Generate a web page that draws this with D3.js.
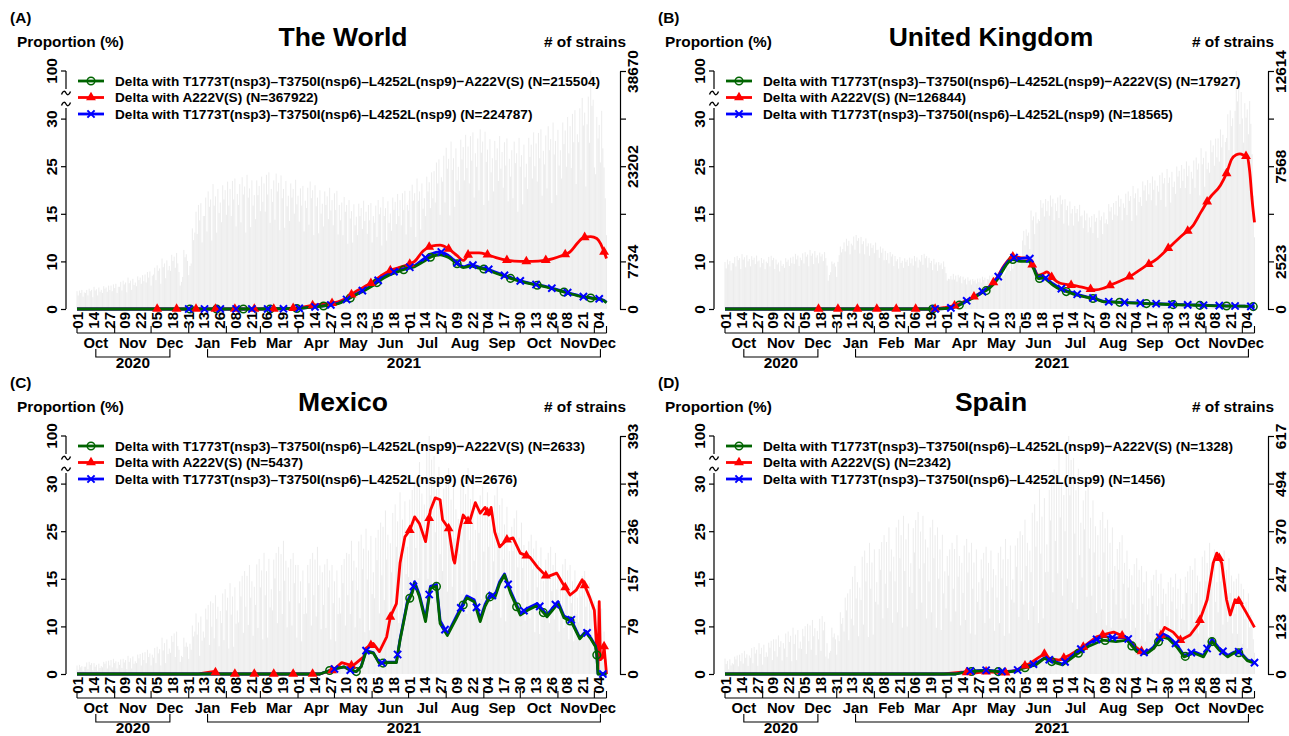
<!DOCTYPE html>
<html>
<head>
<meta charset="utf-8">
<script src="https://cdn.jsdelivr.net/npm/d3@7"></script>
<style>
html, body { margin: 0; padding: 0; background: #fff; }
svg text { font-family: "Liberation Sans", Arial, Helvetica, sans-serif; font-weight: bold; fill: #000; }
</style>
</head>
<body>
<svg id="chart" width="1289" height="736"></svg>
<script>
// ---------------- data ----------------
// day index 0 = 2020-10-01, last day index 436 = 2021-12-11
const firstDate = new Date(2020, 9, 1);
const lastDayIndex = 436;

const panelTitles = ["The World", "United Kingdom", "Mexico", "Spain"];
const panelLetters = ["(A)", "(B)", "(C)", "(D)"];
const strainAxisMax = [38670, 12614, 393, 617];
const proportionTicks = [0, 10, 15, 25, 30];
const proportionTop = 100;
const legendLabels = [
  "Delta with T1773T(nsp3)–T3750I(nsp6)–L4252L(nsp9)−A222V(S)",
  "Delta with A222V(S)",
  "Delta with T1773T(nsp3)–T3750I(nsp6)–L4252L(nsp9)"
];
const worldN = [215504, 367922, 224787];
const ukN = [17927, 126844, 18565];
const mexicoN = [2633, 5437, 2676];
const spainN = [1328, 2342, 1456];

// daily number of strains (World in hundreds, UK in tens, Mexico and Spain as counts)
const worldStrains = [
 29,22,30,26,31,20,27, 26,31,22,33,29,31,19, 36,30,32,22,35,28,31, 26,37,33,35,28,38,31,
 38,29,40,34,41,26,36, 36,44,30,46,40,43,27, 51,42,46,31,49,39,43, 37,53,47,51,41,55,45,
 56,43,60,51,61,38,54, 56,67,47,71,62,66,41, 82,68,74,50,79,63,70, 62,88,78,85,67,91,74,
 60,38,44,52,96,84,89, 78,55,70,74,131,112,124, 158,122,169,144,172,108,151, 151,181,126,191,166,178,111,
 203,168,183,124,195,156,173, 141,201,178,193,153,207,168, 195,151,208,178,212,134,187, 169,203,141,214,186,199,124,
 218,181,196,133,209,168,185, 146,209,185,200,159,215,174, 204,158,218,186,222,140,195, 174,209,145,220,191,205,128,
 217,180,195,132,208,167,184, 143,204,181,195,155,210,170, 184,142,196,168,200,126,176, 164,197,137,207,180,193,120,
 201,167,181,123,193,155,171, 134,191,169,183,146,197,160, 177,136,188,161,192,121,169, 144,173,120,182,158,169,106,
 177,147,159,108,170,136,150, 120,171,151,164,130,176,143, 158,122,169,144,172,108,151, 140,168,117,177,154,165,103,
 182,151,164,111,175,140,155, 127,181,161,174,138,187,151, 177,136,188,161,192,121,169, 160,192,133,202,176,188,117,
 212,176,191,129,204,163,180, 151,215,191,206,164,222,180, 224,173,238,204,243,153,214, 207,249,173,262,228,244,152,
 272,226,245,166,261,209,231, 192,275,243,263,209,283,229, 264,204,281,241,287,181,253, 231,277,193,292,254,272,169,
 288,239,259,176,276,222,245, 191,273,242,261,208,281,228, 255,197,271,233,277,175,244, 215,258,180,272,237,253,158,
 278,231,250,170,267,214,236, 195,278,247,267,212,287,232, 269,207,286,245,292,184,257, 235,282,196,297,258,276,172,
 303,251,273,185,291,233,258, 212,303,268,290,231,312,253, 297,229,317,271,323,203,284, 271,326,226,343,298,319,199,
 300,345,270,387,330,340,230, 219,312,277,299,238,322,261, 230,180,120
];
const ukStrains = [
 249,215,262,236,254,204,244, 242,275,225,281,259,270,211, 291,262,274,221,285,253,265, 226,280,260,272,238,283,252,
 257,221,270,243,262,211,251, 243,276,226,282,259,271,212, 262,236,246,199,257,228,238, 218,269,250,261,228,272,242,
 277,239,292,263,283,228,272, 259,295,241,301,277,289,226, 313,282,294,238,307,272,285, 242,299,278,290,254,302,269,
 230,150,180,195,252,238,245, 225,170,250,285,331,300,318, 353,305,372,335,361,290,346, 337,384,314,392,361,376,294,
 382,344,359,290,374,332,348, 282,348,324,338,296,352,313, 314,271,331,298,321,258,308, 260,296,242,302,278,290,227,
 281,253,264,214,275,244,256, 218,269,250,261,228,272,242, 267,230,281,253,273,219,261, 251,286,234,292,269,280,219,
 271,244,255,206,266,236,247, 202,249,232,242,212,252,224, 190,150,160,158,175,156,186, 156,177,145,181,167,174,136,
 171,154,161,130,168,149,156, 129,159,148,155,135,161,143, 162,140,171,154,166,133,159, 156,177,145,181,167,174,136,
 201,181,189,153,197,175,183, 193,239,222,231,202,241,214, 287,248,302,272,293,236,281, 363,414,338,422,388,405,317,
 522,470,491,397,512,454,475, 466,577,536,560,490,583,519, 572,494,602,542,584,470,560, 519,591,482,603,555,579,452,
 582,524,547,442,570,506,530, 442,546,508,530,464,552,491, 496,428,522,470,506,407,485, 433,493,402,503,463,483,377,
 522,470,491,397,512,454,475, 450,556,517,540,472,562,500, 572,494,602,542,584,470,560, 536,611,498,623,573,598,467,
 652,587,613,496,639,567,593, 546,676,628,656,574,683,608, 667,576,702,632,681,548,653, 622,709,578,723,665,694,542,
 742,668,697,564,727,646,675, 610,755,702,732,641,763,679, 743,641,782,704,759,610,727, 691,787,642,803,739,771,602,
 852,767,801,648,835,741,775, 722,894,831,867,759,903,804, 904,781,952,857,923,743,885, 906,1032,842,1053,969,1011,790,
 1050,1261,1100,1180,980,1150,1010, 882,1091,1014,1058,926,1102,981, 820,600,380
];
const mexicoStrains = [
 14,7,15,11,13,5,12, 12,19,8,20,15,18,6, 18,12,15,5,17,10,13, 11,20,17,21,9,22,14,
 23,11,25,18,21,9,20, 15,24,10,25,19,23,8, 30,20,26,9,29,17,21, 18,32,26,33,14,35,23,
 36,18,40,28,34,14,32, 27,43,18,45,34,41,14, 60,39,51,18,57,33,42, 35,63,53,67,28,70,46,
 40,20,30,28,60,45,52, 45,25,50,40,80,62,70, 100,65,85,30,95,55,70, 60,108,90,114,48,120,78,
 117,59,130,91,111,46,104, 84,133,56,140,105,126,42, 150,98,128,45,143,83,105, 85,153,128,162,68,170,111,
 162,81,180,126,153,63,144, 114,181,76,190,143,171,57, 200,130,170,60,190,110,140, 105,189,158,200,84,210,137,
 198,99,220,154,187,77,176, 120,190,80,200,150,180,60, 180,117,153,54,171,99,126, 100,180,150,190,80,200,130,
 189,95,210,147,179,74,168, 114,181,76,190,143,171,57, 180,117,153,54,171,99,126, 100,180,150,190,80,200,130,
 198,99,220,154,187,77,176, 138,219,92,230,173,207,69, 240,156,204,72,228,132,168, 125,225,188,238,100,250,163,
 243,122,270,189,230,95,216, 168,266,112,280,210,252,84, 300,195,255,90,285,165,210, 160,288,240,304,128,320,208,
 315,158,350,245,298,123,280, 236,373,157,393,295,354,118, 360,234,306,108,342,198,252, 170,306,255,323,136,340,221,
 288,144,320,224,272,112,256, 198,314,132,330,248,297,99, 340,221,289,102,323,187,238, 155,279,233,295,124,310,202,
 270,135,300,210,255,105,240, 186,295,124,310,233,279,93, 290,189,247,87,276,160,203, 135,243,203,257,108,270,176,
 225,113,250,175,213,88,200, 138,219,92,230,173,207,69, 220,143,187,66,209,121,154, 105,189,158,200,84,210,137,
 180,90,200,140,170,70,160, 114,181,76,190,143,171,57, 180,117,153,54,171,99,126, 85,153,128,162,68,170,111,
 135,68,150,105,128,53,120, 72,114,48,120,90,108,36, 70,40,25
];
const spainStrains = [
 40,26,34,12,38,22,28, 25,45,38,48,20,50,33, 54,27,60,42,51,21,48, 42,67,28,70,53,63,21,
 80,52,68,24,76,44,56, 45,81,68,86,36,90,59, 90,45,100,70,85,35,80, 66,105,44,110,83,99,33,
 120,78,102,36,114,66,84, 65,117,98,124,52,130,85, 126,63,140,98,119,49,112, 90,143,60,150,113,135,45,
 80,40,55,60,120,95,105, 90,50,100,85,160,130,145, 110,198,165,209,88,220,143, 252,126,280,196,238,98,224,
 192,304,128,320,240,288,96, 340,221,289,102,323,187,238, 180,324,270,342,144,360,234, 342,171,380,266,323,133,304,
 240,380,160,400,300,360,120, 410,267,349,123,390,226,287, 210,378,315,399,168,420,273, 369,185,410,287,349,144,328,
 240,380,160,400,300,360,120, 380,247,323,114,361,209,266, 170,306,255,323,136,340,221, 324,162,360,252,306,126,288,
 210,333,140,350,263,315,105, 340,221,289,102,323,187,238, 165,297,248,314,132,330,215, 288,144,320,224,272,112,256,
 198,314,132,330,248,297,99, 350,228,298,105,333,193,245, 185,333,278,352,148,370,241, 360,180,400,280,340,140,320,
 264,418,176,440,330,396,132, 480,312,408,144,456,264,336, 265,477,398,504,212,530,345, 522,261,580,406,493,203,464,
 370,586,247,617,463,555,185, 560,364,476,168,532,308,392, 250,450,375,475,200,500,325, 405,203,450,315,383,158,360,
 252,399,168,420,315,378,126, 400,260,340,120,380,220,280, 180,324,270,342,144,360,234, 288,144,320,224,272,112,256,
 180,285,120,300,225,270,90, 280,182,238,84,266,154,196, 135,243,203,257,108,270,176, 234,117,260,182,221,91,208,
 150,238,100,250,188,225,75, 260,169,221,78,247,143,182, 140,252,210,266,112,280,182, 270,135,300,210,255,105,240,
 192,304,128,320,240,288,96, 340,221,289,102,323,187,238, 160,288,240,304,128,320,208, 270,135,300,210,255,105,240,
 156,247,104,260,195,234,78, 220,143,187,66,209,121,154, 140,90,55
];

// proportion (%) of each group, at the listed day indices
const worldDays  = [0,60,120,150,180,195,205,215,222,229,236,243,250,257,264,271,278,285,292,299,306,313,318,324,331,338,345,355,365,375,385,392,399,406,412,417,423,428,431,434,436];
const worldGreen = [0,0,0,0,0.1,0.4,0.7,1.1,1.9,2.9,3.8,4.8,6.1,7.1,7.8,8.4,8.9,9.9,10.5,10.7,10.4,9.5,8.7,9.0,8.6,8.2,7.5,6.6,5.8,5.2,4.7,4.2,3.7,3.2,2.8,2.5,2.3,2.1,2.0,1.7,1.3];
const worldRed   = [0,0,0,0,0.2,0.8,1.1,1.5,2.3,3.6,4.6,5.6,6.9,8.0,8.6,9.2,10.0,11.1,11.6,11.7,11.3,10.6,10.1,10.9,10.9,10.7,10.4,10.1,10.0,10.0,10.1,10.3,10.6,11.0,11.9,12.5,12.6,12.4,11.9,11.0,10.3];
const worldBlue  = [0,0,0,0,0.1,0.4,0.7,1.2,2.0,3.0,4.0,5.0,6.4,7.4,8.1,8.6,9.1,10.2,10.8,11.0,10.6,9.7,8.9,9.3,8.8,8.4,7.7,6.8,5.9,5.3,4.8,4.3,3.8,3.3,2.9,2.6,2.4,2.2,2.1,1.8,1.4];

const ukDays  = [0,100,171,181,190,198,205,211,218,224,229,233,237,243,250,254,258,262,265,270,276,283,290,297,305,312,320,333,345,356,366,377,385,392,399,408,413,417,421,424,428,430,432,434,436];
const ukGreen = [0,0,0,0.1,0.5,1.5,2.4,3.3,4.4,6.1,8.2,9.7,10.2,10.0,10.0,8.5,6.4,6.5,6.1,5.0,4.1,3.5,2.9,2.5,2.1,1.5,1.45,1.3,1.15,1.05,0.95,0.84,0.8,0.75,0.7,0.65,0.62,0.6,0.6,0.6,0.58,0.55,0.55,0.5,0.5];
const ukRed   = [0,0,0,0.3,0.8,1.7,2.6,3.5,4.8,6.6,8.8,10.1,10.5,10.4,10.3,8.8,7.1,7.4,7.8,6.4,5.4,5.1,4.8,4.4,4.0,4.4,5.3,6.8,8.8,10.3,11.5,12.8,13.7,15.4,18.3,21.0,23.5,25.7,26.2,26.3,26.1,26.0,24.0,18.0,14.1];
const ukBlue  = [0,0,0,0.1,0.5,1.6,2.5,3.5,4.7,6.4,8.6,10.0,10.4,10.3,10.4,8.8,6.8,6.8,6.3,5.3,4.4,3.7,3.1,2.6,2.2,1.6,1.5,1.35,1.2,1.1,1.0,0.9,0.85,0.8,0.75,0.7,0.66,0.64,0.63,0.62,0.6,0.58,0.56,0.53,0.52];

const mexicoRedDays = [0,100,112,118,130,200,211,218,227,236,238,244,249,255,258,263,266,270,274,278,282,287,291,295,299,301,306,310,311,315,318,323,328,332,336,339,341,344,348,354,359,365,373,379,387,395,400,406,411,416,422,426,428,429,430,431,433,434,436];
const mexicoRed     = [0,0,0.5,0,0,0,0.84,2.4,1.7,3.6,5.4,6.4,4.7,7.8,11.0,12.4,18.3,23.8,25.1,26.5,25.8,22.8,27.2,28.5,28.3,26.2,25.3,19,18.3,25.1,26.7,25.9,28.0,26.9,27.5,26.7,27.5,24.8,21.7,23.2,23.6,20.4,19.5,17.5,15.4,16.2,14.5,13.3,13.8,14.9,13.1,11.7,5,1,12.6,3,3.5,5.8,0];
const mexicoDays    = [0,200,211,220,225,230,234,238,244,249,256,263,266,272,276,278,282,287,291,296,299,305,313,321,327,332,336,340,344,348,352,357,365,371,379,387,396,401,407,414,419,423,427,428,429,436];
const mexicoGreen   = [0,0,1.0,1.5,0.8,0.5,1.5,4.7,4.4,2.2,2.4,2.4,7.1,12.4,13.5,14.5,13.1,10.5,14.0,14.2,10.3,8.1,11.0,13.0,12.6,10.5,12.1,13.1,13.0,14.5,15.8,13.5,11.2,11.7,12.2,11.0,12.4,10.9,10.5,7.4,8.8,7.4,5.7,4.0,0,0];
const mexicoBlue    = [0,0,1.0,1.5,0.8,0.5,1.6,4.9,4.5,2.3,2.5,2.5,7.3,12.6,13.7,14.7,13.3,10.8,14.2,14.4,10.6,8.4,11.2,13.2,12.8,10.8,12.3,13.3,13.2,14.7,16.0,13.7,11.4,11.9,12.4,11.2,12.6,11.1,10.7,7.6,9.0,7.6,5.9,4.2,0,0];

const spainRedDays = [0,180,195,205,215,230,240,245,251,259,263,267,275,284,295,306,315,320,331,338,345,353,357,362,369,375,383,390,397,402,405,409,413,416,420,424,429,436];
const spainRed     = [0,0,0.4,0.2,0.5,0.2,0.8,1.5,2.2,3.6,4.2,3.3,2.9,4.0,5.7,7.8,8.5,8.8,7.6,5.7,4.4,5.4,7.1,9.8,8.8,7.1,8.2,10.3,12.8,18.3,20.4,18.3,12.8,11.2,12.8,12.6,11.5,9.8];
const spainDays    = [0,190,200,215,230,240,245,256,263,269,278,289,300,311,322,331,339,347,353,360,365,372,378,386,394,401,407,414,419,424,430,436];
const spainGreen   = [0,0,0.5,0.7,0.4,0.6,1.2,1.9,3.3,2.6,1.9,4.0,5.9,7.1,6.8,7.1,4.7,4.2,5.4,7.8,7.4,5.7,3.6,4.4,3.6,6.8,5.0,3.6,4.4,4.5,2.8,2.3];
const spainBlue    = [0,0,0.6,0.8,0.5,0.7,1.4,2.2,3.4,2.8,2.1,4.5,6.5,7.9,7.6,7.7,5.0,4.4,5.7,8.5,7.9,6.2,3.9,4.7,3.9,7.3,5.4,3.9,4.6,4.7,3.0,2.4];

// ---------------- layout ----------------
const COLORS = { green: "#006400", red: "#ff0000", blue: "#0000ff" };
const Y0 = 309, YTOP = 71, STEP = 47.6, AXL = 66, AXR = 620;
const TICK_EVERY = 13;           // date ticks every 13 days
const MARK_EVERY = { blue: 13, red: 16, green: 22 };

const panels = [
  { ox: 0,   oy: 0,   title: panelTitles[0], letter: panelLetters[0], max: strainAxisMax[0], strains: worldStrains, unit: 100, n: worldN,
    curve: d3.curveMonotoneX,
    series: { red: [worldDays, worldRed], blue: [worldDays, worldBlue], green: [worldDays, worldGreen] },
    markStart: { red: 66, blue: 92, green: 93 } },
  { ox: 648, oy: 0,   title: panelTitles[1], letter: panelLetters[1], max: strainAxisMax[1], strains: ukStrains, unit: 10, n: ukN,
    curve: d3.curveMonotoneX,
    series: { red: [ukDays, ukRed], blue: [ukDays, ukBlue], green: [ukDays, ukGreen] },
    markStart: { red: 77, blue: 173, green: 171 } },
  { ox: 0,   oy: 365, title: panelTitles[2], letter: panelLetters[2], max: strainAxisMax[2], strains: mexicoStrains, unit: 1, n: mexicoN,
    curve: d3.curveLinear,
    series: { red: [mexicoRedDays, mexicoRed], blue: [mexicoDays, mexicoBlue], green: [mexicoDays, mexicoGreen] },
    markStart: { red: 114, blue: 212, green: 208 } },
  { ox: 648, oy: 365, title: panelTitles[3], letter: panelLetters[3], max: strainAxisMax[3], strains: spainStrains, unit: 1, n: spainN,
    curve: d3.curveLinear,
    series: { red: [spainRedDays, spainRed], blue: [spainDays, spainBlue], green: [spainDays, spainGreen] },
    markStart: { red: 199, blue: 202, green: 203 } }
];

const svg = d3.select("#chart");
const day = i => d3.timeDay.offset(firstDate, i);
const lastDate = day(lastDayIndex);
const x = d3.scaleTime().domain([firstDate, new Date(2021, 11, 4)]).range([77, 598]);
const yProp = d3.scaleLinear().domain(proportionTicks).range(proportionTicks.map((t, i) => Y0 - i * STEP));

const tickDates = d3.range(0, lastDayIndex - 6, TICK_EVERY).map(day);
const monthStarts = d3.timeMonth.range(firstDate, lastDate);
const monthEdges = monthStarts.concat([lastDate]);

// find the point of a drawn path at a given x
function pointAtX(node, xt) {
  let lo = 0, hi = node.getTotalLength();
  for (let k = 0; k < 32; k++) {
    const mid = (lo + hi) / 2;
    if (node.getPointAtLength(mid).x < xt) lo = mid; else hi = mid;
  }
  return node.getPointAtLength((lo + hi) / 2);
}

function drawMarker(g, kind, px, py) {
  if (kind === "green") {
    g.append("circle").attr("cx", px).attr("cy", py).attr("r", 3.8)
      .attr("fill", "none").attr("stroke", COLORS.green).attr("stroke-width", 1.5);
  } else if (kind === "red") {
    g.append("path").attr("d", d3.symbol(d3.symbolTriangle, 42)())
      .attr("transform", `translate(${px},${py})`).attr("fill", COLORS.red);
  } else {
    g.append("path").attr("d", "M-3.6,-3.6L3.6,3.6M-3.6,3.6L3.6,-3.6")
      .attr("transform", `translate(${px},${py})`)
      .attr("fill", "none").attr("stroke", COLORS.blue).attr("stroke-width", 2);
  }
}

function drawPanel(p) {
  const g = svg.append("g").attr("transform", `translate(${p.ox},${p.oy})`);
  const yR = d3.scaleLinear().domain([0, p.max]).range([Y0, YTOP]);

  // daily strain counts (background bars)
  g.append("g").selectAll("line").data(p.strains).join("line")
    .attr("x1", (v, i) => x(day(i))).attr("x2", (v, i) => x(day(i)))
    .attr("y1", Y0).attr("y2", v => yR(v * p.unit))
    .attr("stroke", "#dcdcdc").attr("stroke-width", 0.55);

  // proportion lines
  const line = d3.line().x(d => x(day(d[0]))).y(d => yProp(d[1])).curve(p.curve);
  const nodes = {};
  ["red", "blue", "green"].forEach(k => {
    const [days, vals] = p.series[k];
    nodes[k] = g.append("path").datum(days.map((d, i) => [d, vals[i]]))
      .attr("d", line).attr("fill", "none").attr("stroke", COLORS[k])
      .attr("stroke-width", 2.8).attr("stroke-linejoin", "round").node();
  });
  const mg = g.append("g");
  ["green", "red", "blue"].forEach(k => {
    for (let d = p.markStart[k]; d <= lastDayIndex; d += MARK_EVERY[k]) {
      const pt = pointAtX(nodes[k], x(day(d)));
      drawMarker(mg, k, pt.x, pt.y);
    }
  });

  // left axis (with a break between 30 and 100)
  const axL = d3.axisLeft(yProp).tickValues(proportionTicks).tickSize(5).tickSizeOuter(0);
  const gl = g.append("g").attr("transform", `translate(${AXL},0)`).call(axL)
    .attr("font-size", null).attr("font-family", null);
  gl.select(".domain").remove();
  const topTick = gl.append("g").attr("class", "tick").attr("transform", `translate(0,${YTOP})`);
  topTick.append("line").attr("x2", -5).attr("stroke", "#000");
  topTick.append("text").text(proportionTop);
  gl.selectAll(".tick line").attr("stroke", "#000").attr("stroke-width", 1.2);
  gl.selectAll(".tick text").attr("x", null).attr("dy", null)
    .attr("transform", "translate(-9,0) rotate(-90)").attr("text-anchor", "middle")
    .style("font-size", "15.4px");
  const breakA = 89, breakB = 108;
  gl.append("path").attr("d", `M0,${YTOP}V${breakA}M0,${breakB}V${Y0}`)
    .attr("stroke", "#000").attr("stroke-width", 1.2).attr("fill", "none");
  [93, 104].forEach(yb => {
    gl.append("path").attr("d", "M-4.5,1.5C-3,-2.5 -1.2,-2.5 0,0S3,2.5 4.5,-1.5")
      .attr("transform", `translate(0,${yb})`)
      .attr("fill", "none").attr("stroke", "#000").attr("stroke-width", 1.4);
  });

  // right axis: strain counts
  const rTicks = d3.range(0, 6).map(i => p.max * i / 5);
  const showAll = p.max < 1000;
  const axR = d3.axisRight(yR).tickValues(rTicks).tickSize(6).tickSizeOuter(0)
    .tickFormat((v, i) => (showAll || i % 2 === 1 || i === 0) ? Math.round(v) : "");
  const gr = g.append("g").attr("transform", `translate(${AXR},0)`).call(axR)
    .attr("font-size", null).attr("font-family", null);
  gr.select(".domain").attr("stroke", "#000").attr("stroke-width", 1.2);
  gr.selectAll(".tick line").attr("stroke", "#000").attr("stroke-width", 1.2);
  gr.selectAll(".tick text").attr("x", null).attr("dy", null)
    .attr("transform", "translate(17.5,0) rotate(-90)").attr("text-anchor", "middle")
    .style("font-size", "15.4px");

  // date axis
  const axB = d3.axisBottom(x).tickValues(tickDates).tickFormat(d3.timeFormat("%d")).tickSize(0);
  const gb = g.append("g").attr("transform", `translate(0,312)`).call(axB)
    .attr("font-size", null).attr("font-family", null);
  gb.select(".domain").remove();
  gb.selectAll(".tick text").attr("y", null).attr("dy", null)
    .attr("transform", "translate(5.5,0) rotate(-90)").attr("text-anchor", "end")
    .style("font-size", "15px");

  // month brackets
  const br = g.append("g").attr("fill", "none").attr("stroke", "#000").attr("stroke-width", 1.1);
  br.append("path").attr("d", `M${x(monthEdges[0])},333H${x(lastDate)}`);
  monthEdges.forEach(m => br.append("path").attr("d", `M${x(m)},326V333`));
  const mid = i => (x(monthEdges[i]) + x(monthEdges[i + 1])) / 2;
  const monthLabels = monthStarts.map((m, i) =>
    g.append("text").attr("x", mid(i)).attr("y", 348).attr("text-anchor", "middle")
      .style("font-size", "14.8px").text(d3.timeFormat("%b")(m)));
  // the short last month sits right next to the one before: keep the two names apart
  const nA = monthLabels.length - 2, nB = monthLabels.length - 1;
  const la = monthLabels[nA].node(), lb = monthLabels[nB].node();
  const gap = (mid(nB) - lb.getComputedTextLength() / 2) - (mid(nA) + la.getComputedTextLength() / 2);
  if (gap < 0.5) {
    const s = (0.5 - gap) / 2;
    monthLabels[nA].attr("x", mid(nA) - s);
    monthLabels[nB].attr("x", mid(nB) + s);
  }
  // year brackets
  d3.groups(monthStarts.map((m, i) => [m.getFullYear(), i]), d => d[0]).forEach(([yr, items]) => {
    const a = mid(items[0][1]), b = mid(items[items.length - 1][1]);
    br.append("path").attr("d", `M${a},349V357H${b}V349`);
    g.append("text").attr("x", (a + b) / 2).attr("y", 367.5).attr("text-anchor", "middle")
      .style("font-size", "15.4px").text(yr);
  });

  // titles
  g.append("text").attr("x", 10).attr("y", 23).style("font-size", "15.4px").text(p.letter);
  g.append("text").attr("x", 17).attr("y", 47).style("font-size", "15.4px").text("Proportion (%)");
  g.append("text").attr("x", (AXL + AXR) / 2).attr("y", 46).attr("text-anchor", "middle")
    .style("font-size", "26.5px").text(p.title);
  g.append("text").attr("x", 626).attr("y", 47).attr("text-anchor", "end")
    .style("font-size", "15.4px").text("# of strains");

  // legend
  const rows = [["green", 0], ["red", 1], ["blue", 2]];
  rows.forEach(([k, i], r) => {
    const ly = 81 + r * 16.5;
    g.append("line").attr("x1", 78).attr("x2", 104).attr("y1", ly).attr("y2", ly)
      .attr("stroke", COLORS[k]).attr("stroke-width", 2.8);
    drawMarker(g, k, 91, ly);
    g.append("text").attr("x", 115).attr("y", ly + 4.8).style("font-size", "13.6px")
      .text(`${legendLabels[i]} (N=${p.n[i]})`);
  });
}

panels.forEach(drawPanel);
</script>
</body>
</html>
